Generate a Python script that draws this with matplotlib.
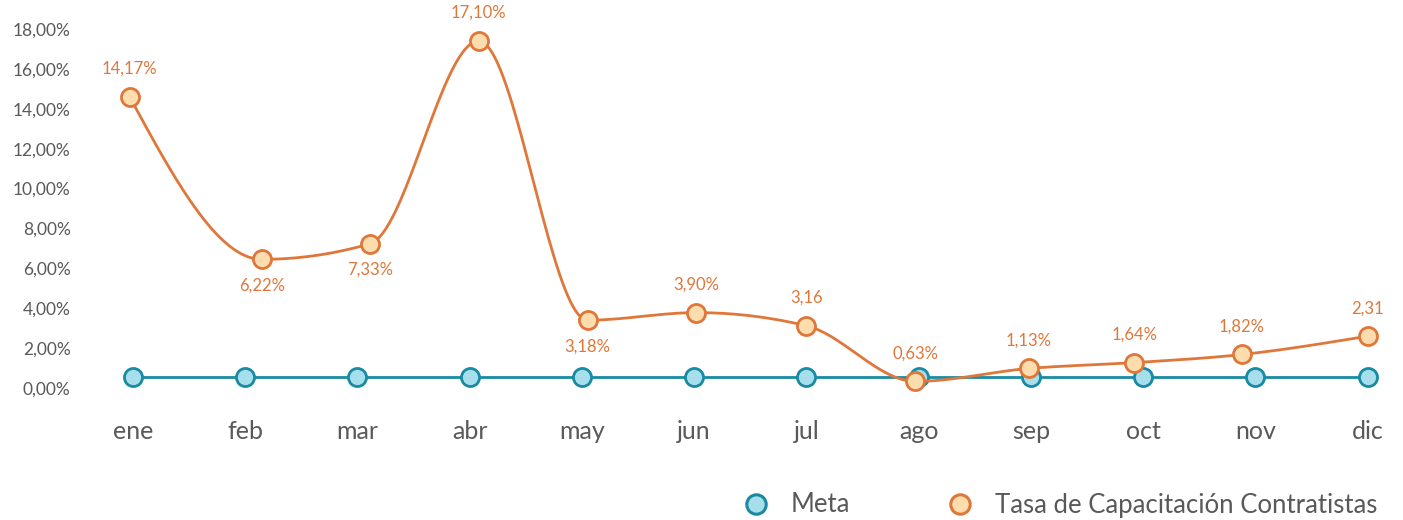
import numpy as np
import matplotlib
matplotlib.use("Agg")
import matplotlib.pyplot as plt
from matplotlib.lines import Line2D
from matplotlib.ticker import FuncFormatter

months = ["ene", "feb", "mar", "abr", "may", "jun", "jul", "ago", "sep", "oct", "nov", "dic"]
# the orange markers sit slightly off the month ticks in the source chart
tasa_x = [-0.03, 1.147, 2.111, 3.08, 4.05, 5.02, 6.0, 6.97, 7.98, 8.92, 9.88, 11.0]
tasa = [14.6, 6.45, 7.23, 17.4, 3.4, 3.78, 3.12, 0.33, 0.98, 1.27, 1.68, 2.6]
tasa_labels = ["14,17%", "6,22%", "7,33%", "17,10%", "3,18%", "3,90%", "3,16",
               "0,63%", "1,13%", "1,64%", "1,82%", "2,31"]
label_below = [False, True, True, False, True, False, False, False, False, False, False, False]
meta = [0.57] * 12

ORANGE = "#E0773A"
ORANGE_FILL = "#FDDCAE"
TEAL = "#1A8AA2"
TEAL_FILL = "#A6DEEC"
GRAY = "#595959"

plt.rcParams["font.family"] = ["Lato", "DejaVu Sans"]


def monotone(x, y, n=40):
    # monotone cubic (d3 curveMonotoneX style)
    x = np.asarray(x, float); y = np.asarray(y, float)
    h = np.diff(x); s = np.diff(y) / h
    t = np.zeros(len(x))
    for i in range(1, len(x) - 1):
        p = (s[i - 1] * h[i] + s[i] * h[i - 1]) / (h[i - 1] + h[i])
        t[i] = (np.sign(s[i - 1]) + np.sign(s[i])) * min(abs(s[i - 1]), abs(s[i]), 0.5 * abs(p))
    t[0] = (3 * s[0] - t[1]) / 2
    t[-1] = (3 * s[-1] - t[-2]) / 2
    u = np.linspace(0, 1, n)[:, None]
    xs, ys = [], []
    for i in range(len(x) - 1):
        dx = h[i] / 3
        p0 = np.array([x[i], y[i]]); p3 = np.array([x[i + 1], y[i + 1]])
        p1 = np.array([x[i] + dx, y[i] + dx * t[i]])
        p2 = np.array([x[i + 1] - dx, y[i + 1] - dx * t[i + 1]])
        b = (1 - u) ** 3 * p0 + 3 * (1 - u) ** 2 * u * p1 + 3 * (1 - u) * u ** 2 * p2 + u ** 3 * p3
        xs.extend(b[:, 0]); ys.extend(b[:, 1])
    return np.array(xs), np.array(ys)


fig = plt.figure(figsize=(14.03, 5.2), dpi=100)
ax = fig.add_axes([133 / 1403, 132 / 520, 1234.7 / 1403, 359 / 520])
x = np.arange(len(months))

ax.plot(x, meta, color=TEAL, lw=2, zorder=2, clip_on=False)
ax.plot(x, meta, "o", ms=13, mfc=TEAL_FILL, mec=TEAL, mew=2, zorder=3, clip_on=False)

sx, sy = monotone(tasa_x, tasa)
ax.plot(sx, sy, color=ORANGE, lw=2, zorder=4, clip_on=False)
ax.plot(tasa_x, tasa, "o", ms=13, mfc=ORANGE_FILL, mec=ORANGE, mew=2, zorder=5, clip_on=False)

for xi, yi, lab, below in zip(tasa_x, tasa, tasa_labels, label_below):
    off = -26 if below else 28
    ax.annotate(lab, (xi, yi), xytext=(0, off), textcoords="offset pixels",
                ha="center", va="center", color=ORANGE, fontsize=12,
                annotation_clip=False)

ax.set_xlim(0, 11)
ax.set_ylim(0, 18)
ax.set_yticks(np.arange(0, 19, 2))
ax.yaxis.set_major_formatter(FuncFormatter(lambda v, p: f"{v:.2f}%".replace(".", ",")))
ax.set_xticks(x)
ax.set_xticklabels(months)
ax.tick_params(axis="y", length=0, pad=45, labelsize=12.5, labelcolor=GRAY)
ax.tick_params(axis="x", length=0, pad=23, labelsize=18, labelcolor=GRAY)
for s in ax.spines.values():
    s.set_visible(False)

handles = [
    Line2D([], [], ls="none", marker="o", ms=14, mfc=TEAL_FILL, mec=TEAL, mew=2.2),
    Line2D([], [], ls="none", marker="o", ms=14, mfc=ORANGE_FILL, mec=ORANGE, mew=2.2),
]
fig.legend(handles, ["Meta", "Tasa de Capacitación Contratistas"], loc="center",
           bbox_to_anchor=(1060 / 1403, 1 - 505 / 520), ncol=2, frameon=False,
           fontsize=18.5, labelcolor=GRAY, handlelength=1.0, handletextpad=0.85,
           columnspacing=3.8, borderpad=0)

fig.savefig("out.png", dpi=100)
